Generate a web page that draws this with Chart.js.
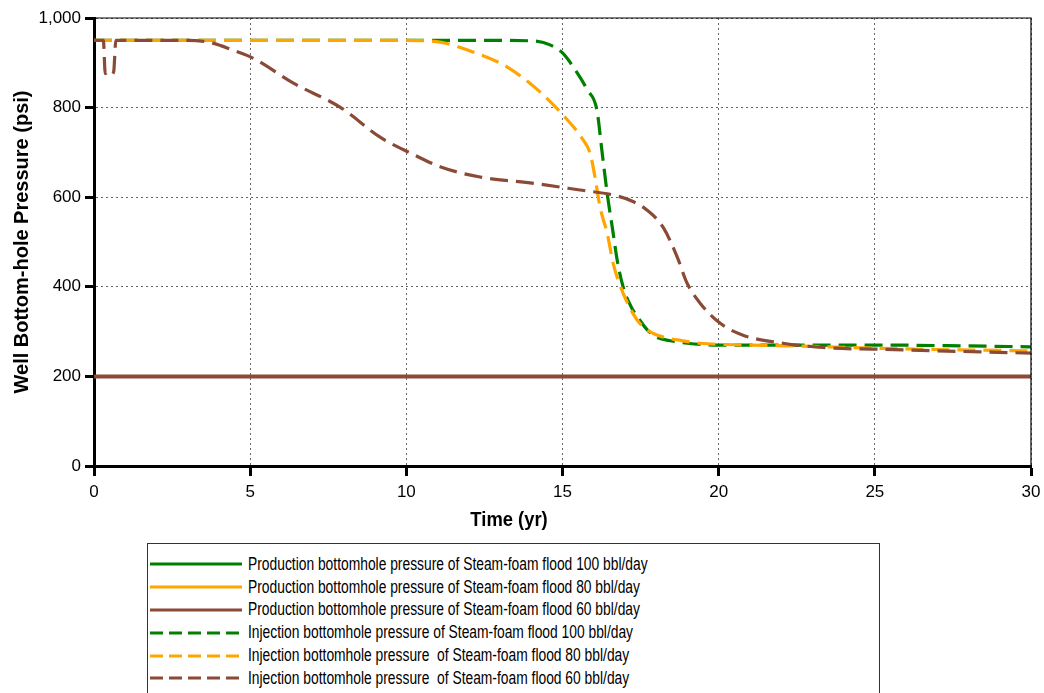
<!DOCTYPE html>
<html>
<head>
<meta charset="utf-8">
<script src="https://cdn.jsdelivr.net/npm/chart.js@4/dist/chart.umd.min.js"></script>
<style>
  html, body { margin: 0; padding: 0; background: #fff; }
  #wrap { position: relative; width: 1044px; height: 693px; overflow: hidden; }
  #chart { position: absolute; left: 0; top: 0; }
  #xTitle {
    position: absolute; left: 0; width: 1018px; top: 508px; text-align: center;
  }
  #xTitle span {
    display: inline-block; transform: scaleX(0.92);
    font: bold 20px "Liberation Sans", Arial, sans-serif; color: #000;
  }
  #legend {
    position: absolute; left: 147px; top: 543px; width: 733px; height: 170px;
    border: 1.5px solid #333; box-sizing: border-box; padding-top: 9px;
  }
  .row { height: 22.8px; display: flex; align-items: center; }
  .row canvas { margin-left: 2px; margin-right: 6px; }
  .row span {
    display: inline-block; transform: scaleX(0.79); transform-origin: left center;
    font: 17.5px "Liberation Sans", Arial, sans-serif; color: #000; white-space: pre;
  }
</style>
</head>
<body>
<div id="wrap">
  <canvas id="chart" width="1044" height="540"></canvas>
  <div id="xTitle"><span>Time (yr)</span></div>
  <div id="legend"></div>
</div>
<script>
// --- data ---
const xTicks = [0, 5, 10, 15, 20, 25, 30];
const yTicks = [0, 200, 400, 600, 800, 1000];

const prodTime = [0, 30];
const prod100Psi = [200, 200];
const prod80Psi = [200, 200];
const prod60Psi = [200, 200];

const inj100Time = [0, 10, 13, 14.2, 14.6, 15.0, 15.4, 15.8, 16.1, 16.27, 16.43, 16.6, 16.75, 16.94, 17.2, 17.4, 17.7, 18.0, 18.5, 19.0, 20.0, 22, 25, 28, 30];
const inj100Psi = [950, 950, 950, 948, 940, 922, 885, 839, 795, 699, 609, 530, 460, 400, 355, 333, 305, 288, 279, 274, 270, 270, 270, 268, 266];

const inj80Time = [0, 10, 11.08, 11.94, 13.22, 14.28, 15.02, 15.66, 15.88, 16.04, 16.2, 16.43, 16.62, 16.94, 17.39, 17.8, 18.22, 18.8, 19.4, 21, 23, 25, 27, 30];
const inj80Psi = [950, 950, 946, 929, 891, 835, 783, 728, 699, 645, 578, 520, 453, 386, 326, 300, 288, 280, 274, 270, 267, 263, 260, 257];

const inj60Time = [0, 0.3, 0.36, 0.45, 0.55, 0.63, 0.7, 3.0, 3.8, 4.45, 5.1, 6.37, 7.9, 9.16, 10.12, 11.08, 12.36, 13.96, 15.56, 16.62, 17.2, 17.71, 18.22, 18.67, 18.99, 19.4, 20.04, 20.78, 22.06, 23.66, 25, 27, 30];
const inj60Psi = [950, 950, 876, 880, 874, 880, 950, 950, 944, 928, 910, 855, 800, 734, 699, 668, 645, 632, 616, 605, 592, 571, 533, 467, 408, 364, 319, 292, 274, 263, 261, 257, 252];

const seriesNames = [
  "Production bottomhole pressure of Steam-foam flood 100 bbl/day",
  "Production bottomhole pressure of Steam-foam flood 80 bbl/day",
  "Production bottomhole pressure of Steam-foam flood 60 bbl/day",
  "Injection bottomhole pressure of Steam-foam flood 100 bbl/day",
  "Injection bottomhole pressure  of Steam-foam flood 80 bbl/day",
  "Injection bottomhole pressure  of Steam-foam flood 60 bbl/day"
];

const GREEN = "#008000";
const ORANGE = "#ffa500";
const BROWN = "#8a4a36";
const DASH = [18, 8];

function toPoints(xs, ys) {
  return xs.map((x, i) => ({ x: x, y: ys[i] }));
}

function makeSet(i, xs, ys, color, dashed, order, width) {
  return {
    label: seriesNames[i],
    data: toPoints(xs, ys),
    borderColor: color,
    backgroundColor: color,
    borderWidth: width,
    borderDash: dashed ? DASH : [],
    pointRadius: 0,
    cubicInterpolationMode: "monotone",
    fill: false,
    order: order
  };
}

const datasets = [
  makeSet(0, prodTime, prod100Psi, GREEN, false, 5, 3),
  makeSet(1, prodTime, prod80Psi, ORANGE, false, 4, 3),
  makeSet(2, prodTime, prod60Psi, BROWN, false, 0, 4),
  makeSet(3, inj100Time, inj100Psi, GREEN, true, 3, 3.2),
  makeSet(4, inj80Time, inj80Psi, ORANGE, true, 2, 3.2),
  makeSet(5, inj60Time, inj60Psi, BROWN, true, 1, 3.2)
];

// thin frame on top and right
const framePlugin = {
  id: "frame",
  afterDraw(chart) {
    const a = chart.chartArea;
    const ctx = chart.ctx;
    ctx.save();
    ctx.strokeStyle = "#000";
    ctx.lineWidth = 1.2;
    ctx.beginPath();
    ctx.moveTo(a.left, a.top);
    ctx.lineTo(a.right, a.top);
    ctx.lineTo(a.right, a.bottom);
    ctx.stroke();
    ctx.restore();
  }
};

const tickFont = { family: "'Liberation Sans', Arial, sans-serif", size: 17 };

new Chart(document.getElementById("chart").getContext("2d"), {
  type: "line",
  data: { datasets: datasets },
  options: {
    responsive: false,
    animation: false,
    layout: { padding: { top: 18, right: 13, left: 0, bottom: 0 } },
    plugins: { legend: { display: false }, tooltip: { enabled: false } },
    scales: {
      x: {
        type: "linear",
        min: 0,
        max: 30,
        afterBuildTicks: (s) => { s.ticks = xTicks.map(v => ({ value: v })); },
        afterFit: (s) => { s.height = 74; s.paddingLeft = 0; s.paddingRight = 0; },
        ticks: { font: tickFont, color: "#000", padding: 6 },
        grid: { color: "#666", lineWidth: 1, tickColor: "#000", tickWidth: 3, tickLength: 10 },
        border: { display: true, color: "#000", width: 3, dash: [2, 3] }
      },
      y: {
        min: 0,
        max: 1000,
        afterBuildTicks: (s) => { s.ticks = yTicks.map(v => ({ value: v })); },
        afterFit: (s) => { s.width = 94; s.paddingTop = 0; s.paddingBottom = 0; },
        ticks: {
          font: tickFont, color: "#000", padding: 4,
          callback: (v) => v.toLocaleString("en-US")
        },
        grid: { color: "#666", lineWidth: 1, tickColor: "#000", tickWidth: 3, tickLength: 9 },
        border: { display: true, color: "#000", width: 3, dash: [2, 3] },
        title: {
          display: true,
          text: "Well Bottom-hole Pressure (psi)",
          font: { family: "'Liberation Sans', Arial, sans-serif", size: 20, weight: "bold" },
          color: "#000",
          padding: { top: 10, bottom: 0 }
        }
      }
    }
  },
  plugins: [framePlugin]
});

// legend box built from the datasets
const legend = document.getElementById("legend");
datasets.forEach(ds => {
  const row = document.createElement("div");
  row.className = "row";
  const c = document.createElement("canvas");
  c.width = 92; c.height = 6;
  const g = c.getContext("2d");
  g.strokeStyle = ds.borderColor;
  g.lineWidth = 3;
  g.setLineDash(ds.borderDash.length ? [13, 6] : []);
  g.beginPath(); g.moveTo(0, 3); g.lineTo(92, 3); g.stroke();
  const t = document.createElement("span");
  t.textContent = ds.label;
  row.appendChild(c);
  row.appendChild(t);
  legend.appendChild(row);
});
</script>
</body>
</html>
